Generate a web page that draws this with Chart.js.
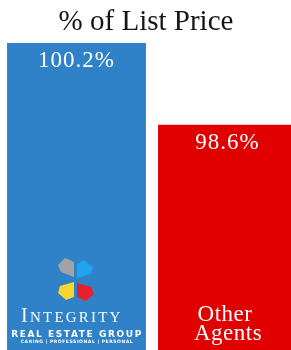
<!DOCTYPE html>
<html>
<head>
<meta charset="utf-8">
<script src="https://cdn.jsdelivr.net/npm/chart.js@4"></script>
<style>
  html, body { margin: 0; padding: 0; background: #fff; overflow: hidden; }
  #wrap { width: 304px; height: 350px; }
</style>
</head>
<body>
<div id="wrap"><canvas id="priceChart" width="304" height="350"></canvas></div>
<script>
// data
const categories = ['Integrity', 'Other Agents'];
const listPricePct = [100.2, 98.6];
const barColors = ['#2f82c8', '#e00000'];
const chartTitle = '% of List Price';
const serif = '"Liberation Serif", "DejaVu Serif", serif';

// title, value labels, logo and category text inside the bars
const barText = {
    id: 'barText',
    afterDatasetsDraw(chart) {
        const c = chart.ctx;
        const bars = chart.getDatasetMeta(0).data;
        const spacing = v => { if ('letterSpacing' in c) c.letterSpacing = v; };
        c.save();
        c.textAlign = 'center';
        c.textBaseline = 'alphabetic';

        c.fillStyle = '#151515';
        c.font = '29px ' + serif;
        c.fillText(chartTitle, 146, 30);

        c.fillStyle = '#fff';
        c.textBaseline = 'middle';
        c.font = '23px ' + serif;
        spacing('1px');
        bars.forEach((b, i) => {
            c.fillText(listPricePct[i].toFixed(1) + '%', b.x, b.y + 18);
        });

        // other agents label
        c.textBaseline = 'alphabetic';
        c.font = '23px ' + serif;
        spacing('0.5px');
        c.fillText('Other', 225, 321);
        c.fillText('Agents', 228, 340);
        spacing('0px');

        // integrity logo
        const petals = [
            { col: '#a3a3a3', pts: [[74,277],[61,272],[58,265],[65,258],[74,262]] },
            { col: '#20a4f0', pts: [[77,278],[77,264],[84,260],[93,267],[91,274]] },
            { col: '#f9d531', pts: [[74,282],[74,297],[66,300],[58,293],[60,286]] },
            { col: '#e8202a', pts: [[77,283],[91,287],[94,294],[86,301],[77,297]] }
        ];
        petals.forEach(p => {
            c.fillStyle = p.col;
            c.beginPath();
            p.pts.forEach((pt, k) => k ? c.lineTo(pt[0], pt[1]) : c.moveTo(pt[0], pt[1]));
            c.closePath();
            c.fill();
        });

        c.fillStyle = '#fff';
        c.textAlign = 'left';
        c.font = '20px ' + serif;
        c.fillText('I', 21, 322);
        c.font = '15px ' + serif;
        spacing('2.2px');
        c.fillText('NTEGRITY', 30, 322);
        c.textAlign = 'center';
        c.font = 'bold 9px "DejaVu Sans", sans-serif';
        spacing('1.6px');
        c.fillText('REAL ESTATE GROUP', 77, 337);
        c.font = 'bold 4.6px "DejaVu Sans", sans-serif';
        spacing('0.5px');
        c.fillText('CARING | PROFESSIONAL | PERSONAL', 77, 343);
        c.restore();
    }
};

const chart = new Chart(document.getElementById('priceChart'), {
    type: 'bar',
    data: {
        labels: categories,
        datasets: [{
            label: chartTitle,
            data: listPricePct,
            backgroundColor: barColors,
            barPercentage: 1,
            categoryPercentage: 0.92
        }]
    },
    options: {
        responsive: false,
        animation: false,
        layout: { padding: { left: 1, right: 1, top: 43, bottom: 0 } },
        plugins: {
            legend: { display: false },
            tooltip: { enabled: false },
            title: { display: false }
        },
        scales: {
            x: { display: false },
            y: { display: false, min: 94.2, max: 100.2 }
        }
    },
    plugins: [barText]
});
</script>
</body>
</html>
